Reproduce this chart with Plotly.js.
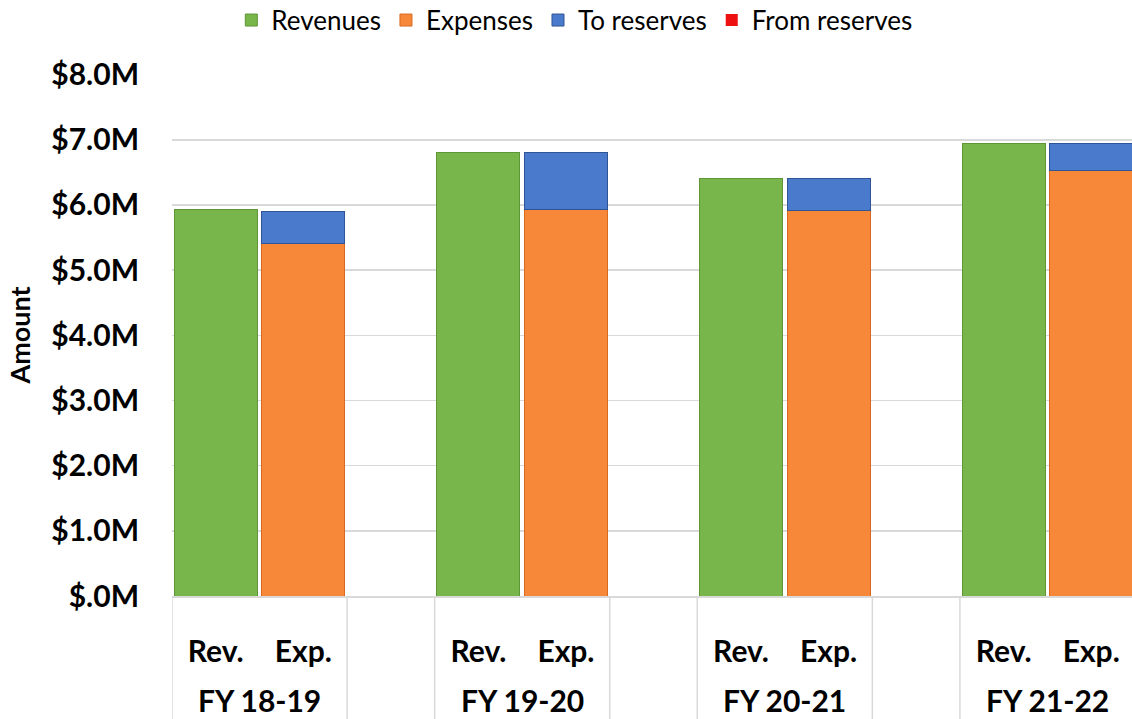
<!DOCTYPE html>
<html>
<head>
<meta charset="utf-8">
<script src="https://cdn.plot.ly/plotly-3.0.1.min.js"></script>
<style>
html, body { margin: 0; padding: 0; overflow: hidden; background: #ffffff; }
#chart { width: 1135px; height: 719px; }
</style>
</head>
<body>
<div id="chart"></div>
<script>
// ---- data ----
const fiscalYears = ["FY 18-19", "FY 19-20", "FY 20-21", "FY 21-22"];
const barLabels = ["Rev.", "Exp."];
const revenues = [5.93, 6.80, 6.41, 6.94];       // $M
const expenses = [5.41, 5.93, 5.91, 6.53];       // $M
const toReserves = [0.49, 0.87, 0.50, 0.41];     // $M
const fromReserves = [0, 0, 0, 0];               // $M
const yTickVals = [0, 1, 2, 3, 4, 5, 6, 7, 8];
const yTickText = ["$.0M", "$1.0M", "$2.0M", "$3.0M", "$4.0M", "$5.0M", "$6.0M", "$7.0M", "$8.0M"];

// ---- positions (each fiscal year: Rev, Exp, blank slot) ----
const slot = 3;
const revX = fiscalYears.map((_, i) => i * slot);
const expX = fiscalYears.map((_, i) => i * slot + 1);
const tickVals = [];
const tickText = [];
fiscalYears.forEach((_, i) => {
  tickVals.push(revX[i], expX[i]);
  tickText.push(barLabels[0], barLabels[1]);
});

const colors = {
  rev: "#78B64C", revLine: "#5E9638",
  exp: "#F7883A", expLine: "#D8691E",
  res: "#4A7ACB", resLine: "#2F5597",
  from: "#EE1111"
};

const traces = [
  { type: "bar", name: "Revenues", x: revX, y: revenues,
    marker: { color: colors.rev, line: { color: colors.revLine, width: 1 } } },
  { type: "bar", name: "Expenses", x: expX, y: expenses,
    marker: { color: colors.exp, line: { color: colors.expLine, width: 1 } } },
  { type: "bar", name: "To reserves", x: expX, y: toReserves,
    marker: { color: colors.res, line: { color: colors.resLine, width: 1 } } },
  { type: "bar", name: "From reserves", x: expX, y: fromReserves,
    marker: { color: colors.from, line: { width: 0 } } }
];

// separators below the axis and fiscal-year labels
const shapes = [];
const annotations = [];
fiscalYears.forEach((fy, i) => {
  [revX[i] - 0.5, expX[i] + 0.5].forEach(xv => {
    shapes.push({ type: "line", xref: "x", yref: "paper", x0: xv, x1: xv, y0: 0, y1: -0.3,
      line: { color: "#D9D9D9", width: 1.5 } });
  });
  annotations.push({ xref: "x", yref: "paper", x: (revX[i] + expX[i]) / 2, y: -0.2,
    yanchor: "middle", xanchor: "center", showarrow: false, text: "<b>" + fy + "</b>",
    font: { family: "Lato", size: 30, color: "#000000" } });
});

const layout = {
  width: 1135, height: 719,
  margin: { l: 172, r: 0, t: 74, b: 123 },
  paper_bgcolor: "#ffffff", plot_bgcolor: "#ffffff",
  barmode: "stack", bargap: 0.05,
  showlegend: true,
  legend: { orientation: "h", xref: "container", yref: "container", x: 0.506, y: 0.972,
    xanchor: "center", yanchor: "middle", traceorder: "normal",
    font: { family: "Lato", size: 26, color: "#000000" } },
  xaxis: {
    range: [-0.5, fiscalYears.length * slot - 1.5],
    tickmode: "array", tickvals: tickVals, ticktext: tickText,
    tickfont: { family: "Lato", size: 30, color: "#000000", weight: "bold" },
    ticks: "", ticklabelstandoff: 28,
    showgrid: false, zeroline: false,
    showline: true, linecolor: "#D9D9D9", linewidth: 1.5
  },
  yaxis: {
    range: [0, 8.01],
    tickmode: "array", tickvals: yTickVals, ticktext: yTickText,
    tickfont: { family: "Lato", size: 30, color: "#000000", weight: "bold" },
    ticks: "", ticklabelstandoff: 32,
    showgrid: true, gridcolor: "#D9D9D9", gridwidth: 1.5,
    zeroline: false, showline: false,
    title: { text: "Amount", standoff: 12,
      font: { family: "Lato", size: 27, color: "#000000", weight: "bold" } }
  },
  shapes: shapes,
  annotations: annotations
};

Plotly.newPlot("chart", traces, layout, { displayModeBar: false, staticPlot: true });
</script>
</body>
</html>
